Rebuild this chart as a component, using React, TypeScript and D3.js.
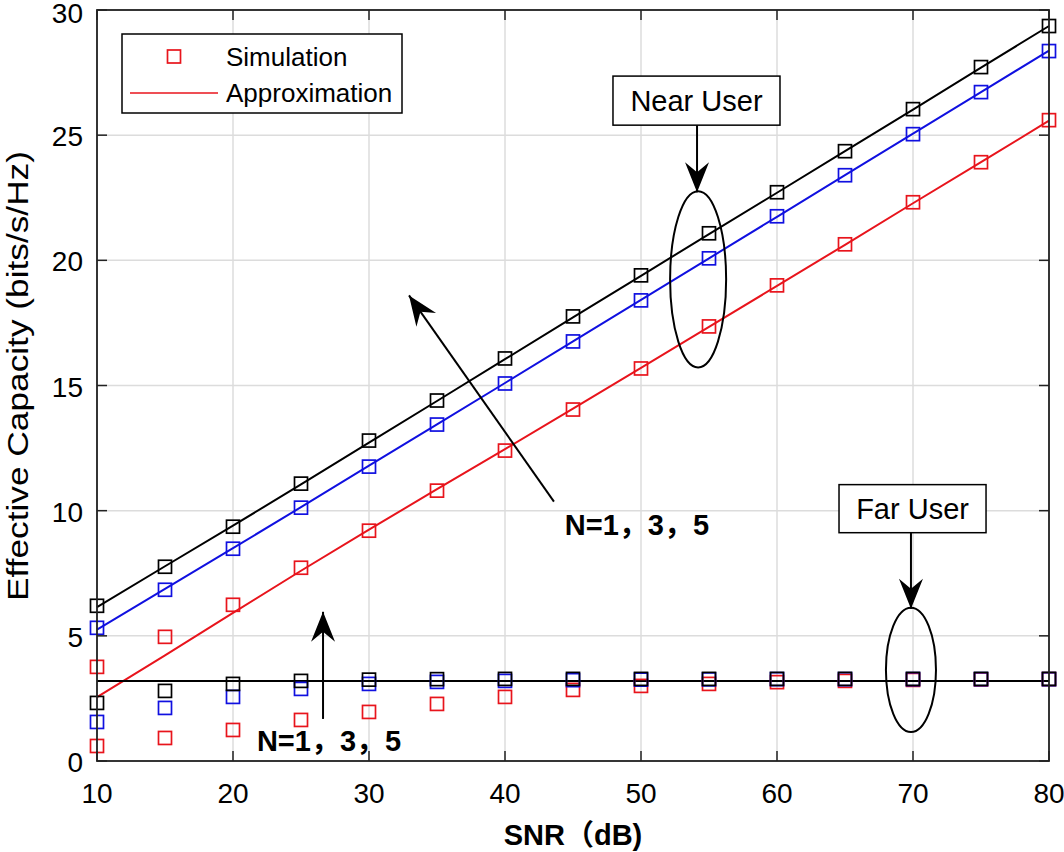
import * as d3 from "d3";

// SNR (dB) sample points
const snr = [10, 15, 20, 25, 30, 35, 40, 45, 50, 55, 60, 65, 70, 75, 80];

// Near user, simulation (squares)
const nearSimN5 = [6.2, 7.76, 9.36, 11.08, 12.8, 14.4, 16.08, 17.76, 19.4, 21.08, 22.72, 24.36, 26.04, 27.72, 29.36];
const nearSimN3 = [5.32, 6.84, 8.48, 10.12, 11.76, 13.44, 15.08, 16.76, 18.4, 20.08, 21.76, 23.4, 25.04, 26.72, 28.36];
const nearSimN1 = [3.76, 4.96, 6.24, 7.72, 9.2, 10.8, 12.4, 14.04, 15.68, 17.36, 19.0, 20.64, 22.32, 23.92, 25.6];

// Near user, approximation (lines)
const nearApproxN5 = [6.15, 7.78, 9.4, 11.05, 12.72, 14.38, 16.05, 17.72, 19.38, 21.05, 22.7, 24.36, 26.02, 27.7, 29.36];
const nearApproxN3 = [5.25, 6.88, 8.5, 10.14, 11.8, 13.45, 15.1, 16.76, 18.42, 20.08, 21.74, 23.4, 25.06, 26.72, 28.38];
const nearApproxN1 = [2.55, 4.22, 5.92, 7.6, 9.24, 10.86, 12.46, 14.08, 15.7, 17.34, 18.98, 20.62, 22.28, 23.92, 25.58];

// Far user, simulation (squares)
const farSimN5 = [2.32, 2.8, 3.08, 3.2, 3.25, 3.27, 3.28, 3.28, 3.28, 3.28, 3.28, 3.28, 3.28, 3.28, 3.28];
const farSimN3 = [1.56, 2.12, 2.56, 2.88, 3.08, 3.16, 3.2, 3.23, 3.25, 3.26, 3.27, 3.27, 3.27, 3.27, 3.27];
const farSimN1 = [0.6, 0.92, 1.24, 1.64, 1.96, 2.28, 2.56, 2.84, 3.0, 3.08, 3.15, 3.2, 3.24, 3.26, 3.27];

// Far user, approximation (lines)
const farApproxN5 = [3.2, 3.2, 3.2, 3.2, 3.2, 3.2, 3.2, 3.2, 3.2, 3.2, 3.2, 3.2, 3.2, 3.2, 3.2];
const farApproxN3 = [3.2, 3.2, 3.2, 3.2, 3.2, 3.2, 3.2, 3.2, 3.2, 3.2, 3.2, 3.2, 3.2, 3.2, 3.2];
const farApproxN1 = [3.2, 3.2, 3.2, 3.2, 3.2, 3.2, 3.2, 3.2, 3.2, 3.2, 3.2, 3.2, 3.2, 3.2, 3.2];

const xTicks = [10, 20, 30, 40, 50, 60, 70, 80];
const yTicks = [0, 5, 10, 15, 20, 25, 30];

const legendLabels = ["Simulation", "Approximation"];
const xLabel = "SNR（dB)";
const yLabel = "Effective Capacity (bits/s/Hz)";
const nLabel = "N=1，3，5";

const RED = "#e8141c";
const BLUE = "#1010e0";
const BLACK = "#000000";
const FONT = "'Liberation Sans', Arial, Helvetica, 'Noto Sans CJK SC', sans-serif";

const W = 1064;
const H = 852;
const M = { left: 97, right: 15, top: 10, bottom: 91 };

const x = d3.scaleLinear().domain([10, 80]).range([M.left, W - M.right]);
const y = d3.scaleLinear().domain([0, 30]).range([H - M.bottom, M.top]);

const series = [
  { color: RED, sim: nearSimN1, approx: nearApproxN1 },
  { color: BLUE, sim: nearSimN3, approx: nearApproxN3 },
  { color: BLACK, sim: nearSimN5, approx: nearApproxN5 },
  { color: RED, sim: farSimN1, approx: farApproxN1 },
  { color: BLUE, sim: farSimN3, approx: farApproxN3 },
  { color: BLACK, sim: farSimN5, approx: farApproxN5 },
];

const line = d3
  .line<number>()
  .x((_, i) => x(snr[i]))
  .y((d) => y(d));

// notched arrow head polygon, tip at (x2,y2)
function arrowHead(x1: number, y1: number, x2: number, y2: number) {
  const len = 30;
  const half = 12;
  const notch = 10;
  const a = Math.atan2(y2 - y1, x2 - x1);
  const ux = Math.cos(a), uy = Math.sin(a);
  const px = -uy, py = ux;
  const bx = x2 - ux * len, by = y2 - uy * len;
  const nx = x2 - ux * (len - notch), ny = y2 - uy * (len - notch);
  return `M${x2},${y2} L${bx + px * half},${by + py * half} L${nx},${ny} L${bx - px * half},${by - py * half} Z`;
}

function Arrow({ from, to }: { from: [number, number]; to: [number, number] }) {
  const x1 = x(from[0]), y1 = y(from[1]);
  const x2 = x(to[0]), y2 = y(to[1]);
  return (
    <g>
      <line x1={x1} y1={y1} x2={x2} y2={y2} stroke="#000" strokeWidth={2} />
      <path d={arrowHead(x1, y1, x2, y2)} fill="#000" />
    </g>
  );
}

function Ellipse({ cx, cy, rx, ry }: { cx: number; cy: number; rx: number; ry: number }) {
  return (
    <ellipse
      cx={x(cx)}
      cy={y(cy)}
      rx={x(cx + rx) - x(cx)}
      ry={y(cy) - y(cy + ry)}
      fill="none"
      stroke="#000"
      strokeWidth={2}
    />
  );
}

function TextBox({ x0, x1, y0, y1, label }: { x0: number; x1: number; y0: number; y1: number; label: string }) {
  return (
    <g>
      <rect x={x(x0)} y={y(y1)} width={x(x1) - x(x0)} height={y(y0) - y(y1)} fill="#fff" stroke="#000" strokeWidth={1.5} />
      <text x={(x(x0) + x(x1)) / 2} y={(y(y0) + y(y1)) / 2 + 10} textAnchor="middle" fontSize={29}>
        {label}
      </text>
    </g>
  );
}

export default function App() {
  const x0 = M.left, x1 = W - M.right, y0 = H - M.bottom, y1 = M.top;
  const sq = 13;
  const lgX = 122, lgY = 34;
  return (
    <svg width={W} height={H} style={{ position: "absolute", left: 0, top: 0, background: "#fff" }} fontFamily={FONT}>
      <rect width={W} height={H} fill="#fff" />
      {/* grid */}
      {xTicks.map((t) => (
        <line key={"gx" + t} x1={x(t)} x2={x(t)} y1={y0} y2={y1} stroke="#dcdcdc" strokeWidth={1.5} />
      ))}
      {yTicks.map((t) => (
        <line key={"gy" + t} x1={x0} x2={x1} y1={y(t)} y2={y(t)} stroke="#dcdcdc" strokeWidth={1.5} />
      ))}

      {/* lines */}
      {series.map((s, i) => (
        <path key={"l" + i} d={line(s.approx) || ""} fill="none" stroke={s.color} strokeWidth={2} />
      ))}
      {/* squares */}
      {series.map((s, i) =>
        s.sim.map((v, j) => (
          <rect
            key={"s" + i + "-" + j}
            x={x(snr[j]) - sq / 2}
            y={y(v) - sq / 2}
            width={sq}
            height={sq}
            fill="none"
            stroke={s.color}
            strokeWidth={1.7}
          />
        ))
      )}

      {/* frame + ticks */}
      {xTicks.map((t) => (
        <g key={"tx" + t}>
          <line x1={x(t)} x2={x(t)} y1={y0} y2={y0 - 10} stroke="#222" strokeWidth={1.5} />
          <line x1={x(t)} x2={x(t)} y1={y1} y2={y1 + 10} stroke="#222" strokeWidth={1.5} />
          <text x={x(t)} y={y0 + 42} textAnchor="middle" fontSize={28}>
            {t}
          </text>
        </g>
      ))}
      {yTicks.map((t) => (
        <g key={"ty" + t}>
          <line x1={x0} x2={x0 + 10} y1={y(t)} y2={y(t)} stroke="#222" strokeWidth={1.5} />
          <line x1={x1} x2={x1 - 10} y1={y(t)} y2={y(t)} stroke="#222" strokeWidth={1.5} />
          <text x={x0 - 14} y={t === 30 ? y(t) + 13 : y(t) + 11} textAnchor="end" fontSize={28}>
            {t}
          </text>
        </g>
      ))}
      <rect x={x0} y={y1} width={x1 - x0} height={y0 - y1} fill="none" stroke="#222" strokeWidth={1.8} />

      {/* axis labels */}
      <text x={(x0 + x1) / 2} y={845} textAnchor="middle" fontSize={29} fontWeight="bold">
        {xLabel}
      </text>
      <text
        transform={`translate(28,376) rotate(-90)`}
        textAnchor="middle"
        fontSize={29}
        textLength={450}
        lengthAdjust="spacingAndGlyphs"
      >
        {yLabel}
      </text>

      {/* legend */}
      <g>
        <rect x={lgX} y={lgY} width={280} height={79} fill="#fff" stroke="#000" strokeWidth={1.5} />
        <rect x={lgX + 52 - 6.5} y={lgY + 16} width={13} height={13} fill="none" stroke={RED} strokeWidth={1.7} />
        <line x1={lgX + 8} x2={lgX + 96} y1={lgY + 59} y2={lgY + 59} stroke={RED} strokeWidth={1.7} />
        <text x={lgX + 104} y={lgY + 32} fontSize={26}>
          {legendLabels[0]}
        </text>
        <text x={lgX + 104} y={lgY + 68} fontSize={26}>
          {legendLabels[1]}
        </text>
      </g>

      {/* annotations */}
      <Arrow from={[54.12, 25.4]} to={[54.12, 22.72]} />
      <TextBox x0={47.94} x1={60.22} y0={25.4} y1={27.36} label="Near User" />
      <Ellipse cx={54.2} cy={19.24} rx={2.06} ry={3.52} />

      <Arrow from={[69.85, 9.12]} to={[69.85, 6.08]} />
      <TextBox x0={64.56} x1={75.37} y0={9.12} y1={11.04} label="Far User" />
      <Ellipse cx={69.85} cy={3.64} rx={1.84} ry={2.48} />

      <Arrow from={[43.6, 10.36]} to={[32.94, 18.6]} />
      <text x={x(44.4)} y={y(9.04)} fontSize={29} fontWeight="bold">
        {nLabel}
      </text>

      <Arrow from={[26.62, 1.68]} to={[26.62, 5.96]} />
      <text x={x(21.76)} y={y(0.4)} fontSize={29} fontWeight="bold">
        {nLabel}
      </text>
    </svg>
  );
}
